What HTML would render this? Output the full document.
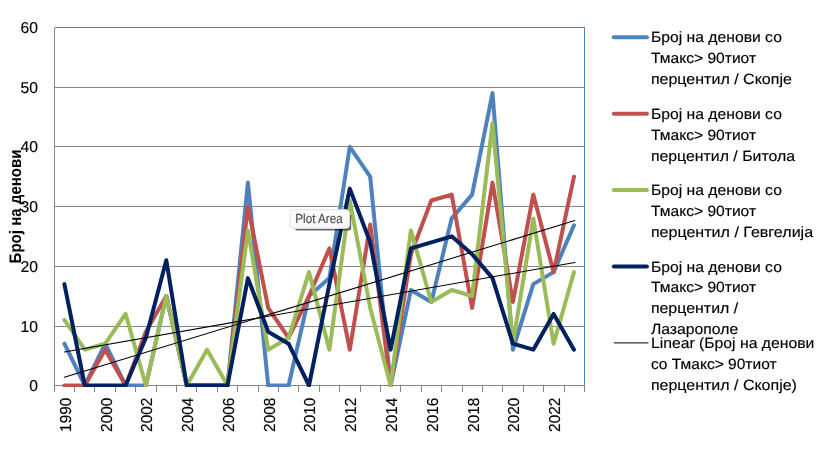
<!DOCTYPE html>
<html lang="mk">
<head>
<meta charset="utf-8">
<title>Број на денови</title>
<style>
html,body{margin:0;padding:0;background:#fff;}
body{width:835px;height:465px;overflow:hidden;}
svg{display:block;}
text{font-family:"Liberation Sans",sans-serif;fill:#000;text-rendering:geometricPrecision;}
.ax{font-size:15.9px;stroke:#000;stroke-width:0.15px;}
.lg{font-size:14.8px;stroke:#000;stroke-width:0.15px;}
.ttl{font-size:16.7px;font-weight:bold;}
.tip{font-size:13.2px;fill:#4e4a55;stroke:#4e4a55;stroke-width:0.15px;}
</style>
</head>
<body>
<svg width="835" height="465" viewBox="0 0 835 465">
<defs>
<linearGradient id="tg" x1="0" y1="0" x2="0" y2="1"><stop offset="0" stop-color="#fdfdfd"/><stop offset="1" stop-color="#f6f6f8"/></linearGradient>
<filter id="sh" x="-20%" y="-30%" width="140%" height="160%"><feGaussianBlur stdDeviation="0.75"/></filter>
</defs>
<rect width="835" height="465" fill="#fff"/>

<g stroke="#868686" stroke-width="1" shape-rendering="crispEdges">
<line x1="54.5" y1="87.5" x2="584.5" y2="87.5"/>
<line x1="54.5" y1="146.5" x2="584.5" y2="146.5"/>
<line x1="54.5" y1="206.5" x2="584.5" y2="206.5"/>
<line x1="54.5" y1="266.5" x2="584.5" y2="266.5"/>
<line x1="54.5" y1="326.5" x2="584.5" y2="326.5"/>
</g>
<path d="M54.5 27.5H584.5V385.5" fill="none" stroke="#4f81bd" stroke-width="1" shape-rendering="crispEdges"/>
<g stroke="#868686" stroke-width="1" shape-rendering="crispEdges">
<line x1="54.5" y1="27.5" x2="54.5" y2="385.5"/>
<line x1="54.5" y1="385.5" x2="584.5" y2="385.5"/>
<line x1="54.5" y1="385.5" x2="54.5" y2="391.5"/>
<line x1="74.5" y1="385.5" x2="74.5" y2="391.5"/>
<line x1="94.5" y1="385.5" x2="94.5" y2="391.5"/>
<line x1="115.5" y1="385.5" x2="115.5" y2="391.5"/>
<line x1="135.5" y1="385.5" x2="135.5" y2="391.5"/>
<line x1="156.5" y1="385.5" x2="156.5" y2="391.5"/>
<line x1="176.5" y1="385.5" x2="176.5" y2="391.5"/>
<line x1="196.5" y1="385.5" x2="196.5" y2="391.5"/>
<line x1="217.5" y1="385.5" x2="217.5" y2="391.5"/>
<line x1="237.5" y1="385.5" x2="237.5" y2="391.5"/>
<line x1="258.5" y1="385.5" x2="258.5" y2="391.5"/>
<line x1="278.5" y1="385.5" x2="278.5" y2="391.5"/>
<line x1="298.5" y1="385.5" x2="298.5" y2="391.5"/>
<line x1="319.5" y1="385.5" x2="319.5" y2="391.5"/>
<line x1="339.5" y1="385.5" x2="339.5" y2="391.5"/>
<line x1="360.5" y1="385.5" x2="360.5" y2="391.5"/>
<line x1="380.5" y1="385.5" x2="380.5" y2="391.5"/>
<line x1="400.5" y1="385.5" x2="400.5" y2="391.5"/>
<line x1="421.5" y1="385.5" x2="421.5" y2="391.5"/>
<line x1="441.5" y1="385.5" x2="441.5" y2="391.5"/>
<line x1="462.5" y1="385.5" x2="462.5" y2="391.5"/>
<line x1="482.5" y1="385.5" x2="482.5" y2="391.5"/>
<line x1="502.5" y1="385.5" x2="502.5" y2="391.5"/>
<line x1="523.5" y1="385.5" x2="523.5" y2="391.5"/>
<line x1="543.5" y1="385.5" x2="543.5" y2="391.5"/>
<line x1="564.5" y1="385.5" x2="564.5" y2="391.5"/>
<line x1="584.5" y1="385.5" x2="584.5" y2="391.5"/>
</g>
<clipPath id="pc"><rect x="40" y="20" width="560" height="366.9"/></clipPath>
<g clip-path="url(#pc)">
<polyline points="64.4,343.7 84.8,385.5 105.2,343.7 125.6,385.5 145.9,385.5 166.3,296.0 186.7,385.5 207.1,385.5 227.5,385.5 247.9,182.6 268.2,385.5 288.6,385.5 309.0,296.0 329.4,278.1 349.8,146.8 370.2,176.7 390.6,385.5 410.9,290.0 431.3,302.0 451.7,218.4 472.1,194.6 492.5,93.1 512.9,349.7 533.3,284.1 553.6,272.1 574.0,225.3" fill="none" stroke="#4f81bd" stroke-width="4" stroke-linejoin="round" stroke-linecap="round"/>
<polyline points="64.4,385.5 84.8,385.5 105.2,349.7 125.6,385.5 145.9,331.8 166.3,296.0 186.7,385.5 207.1,385.5 227.5,385.5 247.9,206.5 268.2,307.9 288.6,337.8 309.0,296.0 329.4,248.3 349.8,349.7 370.2,224.4 390.6,385.5 410.9,254.2 431.3,200.5 451.7,194.6 472.1,307.9 492.5,182.6 512.9,302.0 533.3,194.6 553.6,272.1 574.0,176.7" fill="none" stroke="#c0504d" stroke-width="4" stroke-linejoin="round" stroke-linecap="round"/>
<polyline points="64.4,319.9 84.8,349.7 105.2,343.7 125.6,313.9 145.9,385.5 166.3,296.0 186.7,385.5 207.1,349.7 227.5,385.5 247.9,230.4 268.2,349.7 288.6,337.8 309.0,272.1 329.4,349.7 349.8,200.5 370.2,307.9 390.6,385.5 410.9,230.4 431.3,302.0 451.7,290.0 472.1,296.0 492.5,123.0 512.9,343.7 533.3,218.4 553.6,343.7 574.0,272.1" fill="none" stroke="#9bbb59" stroke-width="4" stroke-linejoin="round" stroke-linecap="round"/>
<polyline points="64.4,284.1 84.8,385.5 105.2,385.5 125.6,385.5 145.9,337.8 166.3,260.2 186.7,385.5 207.1,385.5 227.5,385.5 247.9,278.1 268.2,331.8 288.6,343.7 309.0,385.5 329.4,284.1 349.8,188.6 370.2,242.3 390.6,349.7 410.9,248.3 431.3,242.3 451.7,236.3 472.1,254.2 492.5,278.1 512.9,343.7 533.3,349.7 553.6,313.9 574.0,349.7" fill="none" stroke="#002060" stroke-width="4" stroke-linejoin="round" stroke-linecap="round"/>
</g>
<line x1="64.4" y1="377.33" x2="574.8" y2="220.57" stroke="#000" stroke-width="1.05" stroke-linecap="round"/>
<line x1="64.4" y1="351.97" x2="574.8" y2="262.45" stroke="#000" stroke-width="1.05" stroke-linecap="round"/>
<text class="ax" style="font-size:15.8px" x="38.0" y="391.2" text-anchor="end" textLength="8.75" lengthAdjust="spacingAndGlyphs">0</text>
<text class="ax" style="font-size:15.8px" x="38.0" y="332.2" text-anchor="end" textLength="17.5" lengthAdjust="spacingAndGlyphs">10</text>
<text class="ax" style="font-size:15.8px" x="38.0" y="272.2" text-anchor="end" textLength="17.5" lengthAdjust="spacingAndGlyphs">20</text>
<text class="ax" style="font-size:15.8px" x="38.0" y="212.2" text-anchor="end" textLength="17.5" lengthAdjust="spacingAndGlyphs">30</text>
<text class="ax" style="font-size:15.8px" x="38.0" y="152.2" text-anchor="end" textLength="17.5" lengthAdjust="spacingAndGlyphs">40</text>
<text class="ax" style="font-size:15.8px" x="38.0" y="93.2" text-anchor="end" textLength="17.5" lengthAdjust="spacingAndGlyphs">50</text>
<text class="ax" style="font-size:15.8px" x="38.0" y="33.2" text-anchor="end" textLength="17.5" lengthAdjust="spacingAndGlyphs">60</text>
<text class="ax" transform="translate(70.8,397.8) rotate(-90)" text-anchor="end" textLength="34.1" lengthAdjust="spacingAndGlyphs">1990</text>
<text class="ax" transform="translate(111.6,397.8) rotate(-90)" text-anchor="end" textLength="34.1" lengthAdjust="spacingAndGlyphs">2000</text>
<text class="ax" transform="translate(152.3,397.8) rotate(-90)" text-anchor="end" textLength="34.1" lengthAdjust="spacingAndGlyphs">2002</text>
<text class="ax" transform="translate(193.1,397.8) rotate(-90)" text-anchor="end" textLength="34.1" lengthAdjust="spacingAndGlyphs">2004</text>
<text class="ax" transform="translate(233.9,397.8) rotate(-90)" text-anchor="end" textLength="34.1" lengthAdjust="spacingAndGlyphs">2006</text>
<text class="ax" transform="translate(274.6,397.8) rotate(-90)" text-anchor="end" textLength="34.1" lengthAdjust="spacingAndGlyphs">2008</text>
<text class="ax" transform="translate(315.4,397.8) rotate(-90)" text-anchor="end" textLength="34.1" lengthAdjust="spacingAndGlyphs">2010</text>
<text class="ax" transform="translate(356.2,397.8) rotate(-90)" text-anchor="end" textLength="34.1" lengthAdjust="spacingAndGlyphs">2012</text>
<text class="ax" transform="translate(397.0,397.8) rotate(-90)" text-anchor="end" textLength="34.1" lengthAdjust="spacingAndGlyphs">2014</text>
<text class="ax" transform="translate(437.7,397.8) rotate(-90)" text-anchor="end" textLength="34.1" lengthAdjust="spacingAndGlyphs">2016</text>
<text class="ax" transform="translate(478.5,397.8) rotate(-90)" text-anchor="end" textLength="34.1" lengthAdjust="spacingAndGlyphs">2018</text>
<text class="ax" transform="translate(519.3,397.8) rotate(-90)" text-anchor="end" textLength="34.1" lengthAdjust="spacingAndGlyphs">2020</text>
<text class="ax" transform="translate(560.0,397.8) rotate(-90)" text-anchor="end" textLength="34.1" lengthAdjust="spacingAndGlyphs">2022</text>
<text class="ttl" transform="translate(20.7,206.4) rotate(-90)" text-anchor="middle" textLength="114" lengthAdjust="spacingAndGlyphs">Број на денови</text>
<line x1="613.8" y1="37.2" x2="646.9" y2="37.2" stroke="#4f81bd" stroke-width="4" stroke-linecap="round"/>
<text class="lg" x="650.9" y="42.20" textLength="131" lengthAdjust="spacingAndGlyphs">Број на денови со</text>
<text class="lg" x="650.9" y="63.10" textLength="105.2" lengthAdjust="spacingAndGlyphs">Тмакс&gt; 90тиот</text>
<text class="lg" x="650.9" y="84.00" textLength="141" lengthAdjust="spacingAndGlyphs">перцентил / Скопје</text>
<line x1="613.8" y1="113.7" x2="646.9" y2="113.7" stroke="#c0504d" stroke-width="4" stroke-linecap="round"/>
<text class="lg" x="650.9" y="118.70" textLength="131" lengthAdjust="spacingAndGlyphs">Број на денови со</text>
<text class="lg" x="650.9" y="139.60" textLength="105.2" lengthAdjust="spacingAndGlyphs">Тмакс&gt; 90тиот</text>
<text class="lg" x="650.9" y="160.50" textLength="144.1" lengthAdjust="spacingAndGlyphs">перцентил / Битола</text>
<line x1="613.8" y1="190.0" x2="646.9" y2="190.0" stroke="#9bbb59" stroke-width="4" stroke-linecap="round"/>
<text class="lg" x="650.9" y="195.00" textLength="131" lengthAdjust="spacingAndGlyphs">Број на денови со</text>
<text class="lg" x="650.9" y="215.90" textLength="105.2" lengthAdjust="spacingAndGlyphs">Тмакс&gt; 90тиот</text>
<text class="lg" x="650.9" y="236.80" textLength="162.2" lengthAdjust="spacingAndGlyphs">перцентил / Гевгелија</text>
<line x1="613.8" y1="266.5" x2="646.9" y2="266.5" stroke="#002060" stroke-width="4" stroke-linecap="round"/>
<text class="lg" x="650.9" y="271.50" textLength="131" lengthAdjust="spacingAndGlyphs">Број на денови со</text>
<text class="lg" x="650.9" y="292.40" textLength="105.2" lengthAdjust="spacingAndGlyphs">Тмакс&gt; 90тиот</text>
<text class="lg" x="650.9" y="313.30" textLength="87.3" lengthAdjust="spacingAndGlyphs">перцентил /</text>
<text class="lg" x="650.9" y="334.20" textLength="87.3" lengthAdjust="spacingAndGlyphs">Лазарополе</text>
<line x1="614" y1="342.9" x2="648.5" y2="342.9" stroke="#000" stroke-width="1"/>
<text class="lg" x="650.9" y="347.90" textLength="163.4" lengthAdjust="spacingAndGlyphs">Linear (Број на денови</text>
<text class="lg" x="650.9" y="368.80" textLength="125.7" lengthAdjust="spacingAndGlyphs">со Тмакс&gt; 90тиот</text>
<text class="lg" x="650.9" y="389.70" textLength="146" lengthAdjust="spacingAndGlyphs">перцентил / Скопје)</text>
<rect x="295" y="214" width="56.2" height="16.5" rx="2.5" ry="2.5" fill="#000" opacity="0.6" filter="url(#sh)"/>
<rect x="289.9" y="209.7" width="59.5" height="18.7" rx="3.5" ry="3.5" fill="url(#tg)" stroke="#e2e2e2" stroke-width="1"/>
<text class="tip" x="295.3" y="223" textLength="47.4" lengthAdjust="spacingAndGlyphs">Plot Area</text>
</svg>
</body>
</html>
